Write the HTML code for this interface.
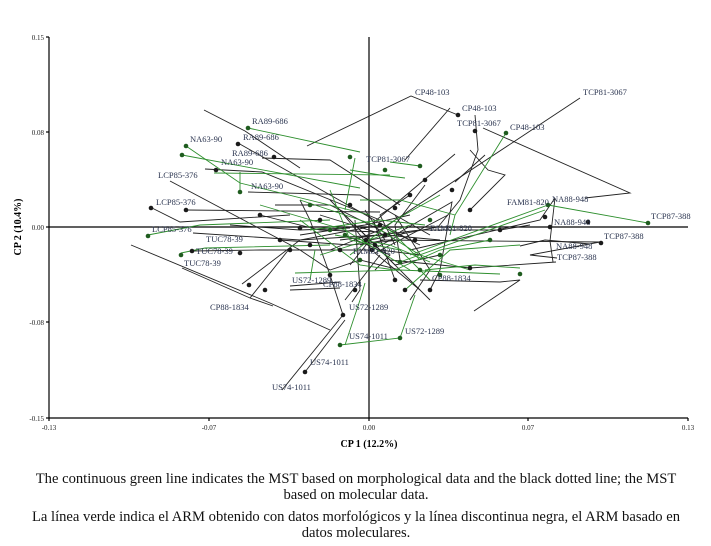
<!DOCTYPE html>
<html><head><meta charset="utf-8"><style>
html,body{margin:0;padding:0;background:#fff;}
svg{display:block}
.l{font-family:"Liberation Serif",serif;font-size:8.5px;fill:#2b3550}
.t{font-family:"Liberation Serif",serif;font-size:7px;fill:#222}
.c{font-family:"Liberation Serif",serif;font-size:14.6px;fill:#111}
</style></head><body>
<svg width="711" height="546" viewBox="0 0 711 546" xmlns="http://www.w3.org/2000/svg">
<rect width="711" height="546" fill="#fff"/>
<g stroke="#000" stroke-width="1.2" fill="none">
<line x1="49" y1="37" x2="49" y2="418"/>
<line x1="49" y1="418" x2="688" y2="418"/>
<line x1="369" y1="37" x2="369" y2="418"/>
<line x1="49" y1="227" x2="688" y2="227"/>
<line x1="46" y1="37" x2="49" y2="37"/><line x1="46" y1="132" x2="49" y2="132"/><line x1="46" y1="227" x2="49" y2="227"/><line x1="46" y1="322" x2="49" y2="322"/><line x1="46" y1="418" x2="49" y2="418"/>
<line x1="49" y1="418" x2="49" y2="421"/><line x1="209" y1="418" x2="209" y2="421"/><line x1="369" y1="418" x2="369" y2="421"/><line x1="528" y1="418" x2="528" y2="421"/><line x1="688" y1="418" x2="688" y2="421"/>
</g>
<g class="t" text-anchor="end">
<text x="44" y="40">0.15</text><text x="44" y="135">0.08</text><text x="44" y="230">0.00</text><text x="44" y="325">-0.08</text><text x="44" y="421">-0.15</text>
</g>
<g class="t" text-anchor="middle">
<text x="49" y="430">-0.13</text><text x="209" y="430">-0.07</text><text x="369" y="430">0.00</text><text x="528" y="430">0.07</text><text x="688" y="430">0.13</text>
</g>
<text x="369" y="447" text-anchor="middle" style="font-family:'Liberation Serif',serif;font-size:10px;font-weight:bold">CP 1 (12.2%)</text>
<text transform="translate(21,227) rotate(-90)" text-anchor="middle" style="font-family:'Liberation Serif',serif;font-size:10px;font-weight:bold">CP 2 (10.4%)</text>

<g stroke="#222" stroke-width="0.9" fill="none">
<path d="M307,146 L411,96 L458,115"/>
<path d="M580,98 L515,141"/>
<path d="M483,128 L630,193 L585,198"/>
<path d="M450,108 L405,160"/>
<path d="M204,110 L245,131 L300,168"/>
<path d="M238,143 L410,240"/>
<path d="M262,158 L330,160 L400,205"/>
<path d="M205,169 L262,172 L380,220"/>
<path d="M248,192 L360,195 L430,235"/>
<path d="M170,181 L300,250"/>
<path d="M152,208 L180,222 L290,215"/>
<path d="M186,210 L380,212"/>
<path d="M131,245 L270,303 L330,330"/>
<path d="M193,233 L300,240 L380,235"/>
<path d="M192,251 L260,250 L375,250"/>
<path d="M182,268 L250,298 L290,248"/>
<path d="M250,298 L273,306"/>
<path d="M290,286 L340,282"/>
<path d="M290,290 L340,288"/>
<path d="M242,284 L300,240 L380,225"/>
<path d="M343,315 L330,275 L310,220 L300,200"/>
<path d="M343,315 L282,390"/>
<path d="M345,320 L305,372"/>
<path d="M350,265 L370,240 L438,227 L460,200 L478,150 L475,115"/>
<path d="M470,150 L488,170 L505,175 L470,210"/>
<path d="M485,155 L455,182"/>
<path d="M455,154 L374,222 L395,280"/>
<path d="M515,141 L380,230"/>
<path d="M400,232 L452,202 L440,270 L430,290"/>
<path d="M448,215 L375,253 L420,290"/>
<path d="M410,250 L540,220 L555,198"/>
<path d="M555,198 L550,241 L553,262"/>
<path d="M380,240 L600,242 L530,255 L557,258"/>
<path d="M520,246 L545,240 L590,244"/>
<path d="M390,260 L470,268 L556,262"/>
<path d="M420,280 L500,282 L520,280 L474,311"/>
<path d="M340,240 L420,230 L500,230 L530,225"/>
<path d="M355,225 L420,290 L430,300"/>
<path d="M300,250 L330,270 L360,260 L400,270"/>
<path d="M330,200 L380,250 L420,255"/>
<path d="M260,215 L320,230 L380,232"/>
<path d="M275,205 L330,205 L390,235"/>
<path d="M355,220 L360,290 L352,302"/>
<path d="M380,255 L345,300"/>
<path d="M360,230 L395,265 L440,255"/>
<path d="M395,215 L430,270 L410,300"/>
<path d="M230,225 L300,230 L350,228"/>
<path d="M280,240 L350,245 L400,240"/>
<path d="M425,185 L395,225 L400,260"/>
<path d="M410,195 L380,215 L395,245"/>
<path d="M320,215 L385,235 L440,240"/>
<path d="M340,210 L372,250 L405,232"/>
<path d="M300,235 L365,225 L410,215"/>
<path d="M330,250 L385,228 L420,245"/>
<path d="M345,235 L390,255 L375,270"/>
<path d="M365,210 L385,240 L360,245"/>
</g>
<g stroke="#2e8f2e" stroke-width="0.9" fill="none">
<path d="M186,146 L240,183 L370,215"/>
<path d="M182,155 L360,188"/>
<path d="M248,128 L360,152"/>
<path d="M240,172 L240,192"/>
<path d="M214,173 L390,175"/>
<path d="M506,133 L455,215 L450,235"/>
<path d="M548,205 L648,223"/>
<path d="M548,205 L410,255"/>
<path d="M545,210 L400,262"/>
<path d="M148,235 L200,225 L330,220"/>
<path d="M181,253 L205,248 L330,245"/>
<path d="M350,170 L380,175 L405,178"/>
<path d="M390,162 L420,166"/>
<path d="M355,158 L345,210"/>
<path d="M300,200 L390,230 L420,260"/>
<path d="M260,205 L345,230 L410,270"/>
<path d="M310,230 L380,220 L425,225"/>
<path d="M295,273 L400,270 L500,274"/>
<path d="M395,270 L440,250 L490,240"/>
<path d="M405,290 L450,250 L520,245"/>
<path d="M425,270 L475,265 L520,268"/>
<path d="M340,345 L400,338 L415,295"/>
<path d="M345,345 L360,300 L365,283"/>
<path d="M310,280 L315,250"/>
<path d="M330,190 L350,240 L400,250 L430,280"/>
<path d="M360,200 L400,200 L455,215"/>
<path d="M380,230 L420,255 L470,270"/>
<path d="M300,220 L360,265 L395,270"/>
<path d="M350,255 L395,220 L440,195"/>
<path d="M335,235 L390,245 L430,262"/>
<path d="M320,255 L375,238 L410,225"/>
</g>
<g fill="#1a1a1a">
<circle cx="458" cy="115" r="2.3"/><circle cx="475" cy="131" r="2.3"/><circle cx="648" cy="223" r="2.3" fill="#1f5c1f"/><circle cx="506" cy="133" r="2.3" fill="#1f5c1f"/><circle cx="548" cy="205" r="2.3" fill="#1f5c1f"/><circle cx="550" cy="227" r="2.3"/><circle cx="601" cy="243" r="2.3"/><circle cx="545" cy="217" r="2.3"/><circle cx="248" cy="128" r="2.3" fill="#1f5c1f"/><circle cx="238" cy="144" r="2.3"/><circle cx="186" cy="146" r="2.3" fill="#1f5c1f"/><circle cx="182" cy="155" r="2.3" fill="#1f5c1f"/><circle cx="274" cy="157" r="2.3"/><circle cx="216" cy="170" r="2.3"/><circle cx="240" cy="192" r="2.3" fill="#1f5c1f"/><circle cx="151" cy="208" r="2.3"/><circle cx="186" cy="210" r="2.3"/><circle cx="148" cy="236" r="2.3" fill="#1f5c1f"/><circle cx="192" cy="251" r="2.3"/><circle cx="181" cy="255" r="2.3" fill="#1f5c1f"/><circle cx="240" cy="253" r="2.3"/><circle cx="249" cy="285" r="2.3"/><circle cx="343" cy="315" r="2.3"/><circle cx="305" cy="372" r="2.3"/><circle cx="340" cy="345" r="2.3" fill="#1f5c1f"/><circle cx="400" cy="338" r="2.3" fill="#1f5c1f"/><circle cx="430" cy="290" r="2.3"/><circle cx="520" cy="274" r="2.3" fill="#1f5c1f"/><circle cx="588" cy="222" r="2.3"/><circle cx="366" cy="240" r="2.3"/><circle cx="350" cy="157" r="2.3" fill="#1f5c1f"/><circle cx="385" cy="170" r="2.3" fill="#1f5c1f"/><circle cx="420" cy="166" r="2.3" fill="#1f5c1f"/><circle cx="452" cy="190" r="2.3"/><circle cx="425" cy="180" r="2.3"/><circle cx="410" cy="195" r="2.3"/><circle cx="395" cy="208" r="2.3"/><circle cx="430" cy="220" r="2.3" fill="#1f5c1f"/><circle cx="320" cy="220" r="2.3"/><circle cx="300" cy="228" r="2.3"/><circle cx="280" cy="240" r="2.3"/><circle cx="340" cy="250" r="2.3"/><circle cx="360" cy="260" r="2.3" fill="#1f5c1f"/><circle cx="400" cy="262" r="2.3" fill="#1f5c1f"/><circle cx="440" cy="255" r="2.3" fill="#1f5c1f"/><circle cx="470" cy="268" r="2.3"/><circle cx="490" cy="240" r="2.3" fill="#1f5c1f"/><circle cx="395" cy="280" r="2.3"/><circle cx="420" cy="270" r="2.3" fill="#1f5c1f"/><circle cx="330" cy="275" r="2.3"/><circle cx="355" cy="290" r="2.3"/><circle cx="380" cy="225" r="2.3"/><circle cx="260" cy="215" r="2.3"/><circle cx="310" cy="205" r="2.3" fill="#1f5c1f"/><circle cx="350" cy="205" r="2.3"/><circle cx="375" cy="245" r="2.3"/><circle cx="470" cy="210" r="2.3"/><circle cx="500" cy="230" r="2.3"/><circle cx="415" cy="240" r="2.3"/><circle cx="405" cy="290" r="2.3"/><circle cx="440" cy="275" r="2.3" fill="#1f5c1f"/><circle cx="265" cy="290" r="2.3"/><circle cx="290" cy="250" r="2.3"/><circle cx="330" cy="230" r="2.3" fill="#1f5c1f"/><circle cx="310" cy="245" r="2.3"/><circle cx="385" cy="235" r="2.3"/><circle cx="345" cy="235" r="2.3" fill="#1f5c1f"/><circle cx="372" cy="250" r="2.3"/>
</g>
<g class="l">
<text x="415" y="95">CP48-103</text><text x="462" y="111">CP48-103</text><text x="457" y="126">TCP81-3067</text><text x="510" y="130">CP48-103</text><text x="583" y="95">TCP81-3067</text><text x="366" y="162">TCP81-3067</text>
<text x="252" y="124">RA89-686</text><text x="243" y="140">RA89-686</text><text x="232" y="156">RA89-686</text>
<text x="190" y="142">NA63-90</text><text x="221" y="165">NA63-90</text><text x="251" y="189">NA63-90</text>
<text x="158" y="178">LCP85-376</text><text x="156" y="205">LCP85-376</text><text x="152" y="232">LCP85-376</text>
<text x="206" y="242">TUC78-39</text><text x="196" y="254">TUC78-39</text><text x="184" y="266">TUC78-39</text>
<text x="507" y="205">FAM81-820</text><text x="430" y="231">FAM81-820</text><text x="353" y="254">FAM81-820</text>
<text x="552" y="202">NA88-948</text><text x="554" y="225">NA88-948</text><text x="556" y="249">NA88-948</text>
<text x="651" y="219">TCP87-388</text><text x="604" y="239">TCP87-388</text><text x="557" y="260">TCP87-388</text>
<text x="292" y="283">US72-1289</text><text x="323" y="287">CP88-1834</text><text x="432" y="281">CP88-1834</text><text x="210" y="310">CP88-1834</text>
<text x="349" y="310">US72-1289</text><text x="405" y="334">US72-1289</text>
<text x="349" y="339">US74-1011</text><text x="310" y="365">US74-1011</text><text x="272" y="390">US74-1011</text>
</g>
<g class="c" text-anchor="middle">
<text x="356" y="483">The continuous green line indicates the MST based on morphological data and the black dotted line; the MST</text>
<text x="356" y="499">based on molecular data.</text>
<text x="356" y="521">La línea verde indica el ARM obtenido con datos morfológicos y la línea discontinua negra, el ARM basado en</text>
<text x="356" y="537">datos moleculares.</text>
</g>
</svg>
</body></html>
